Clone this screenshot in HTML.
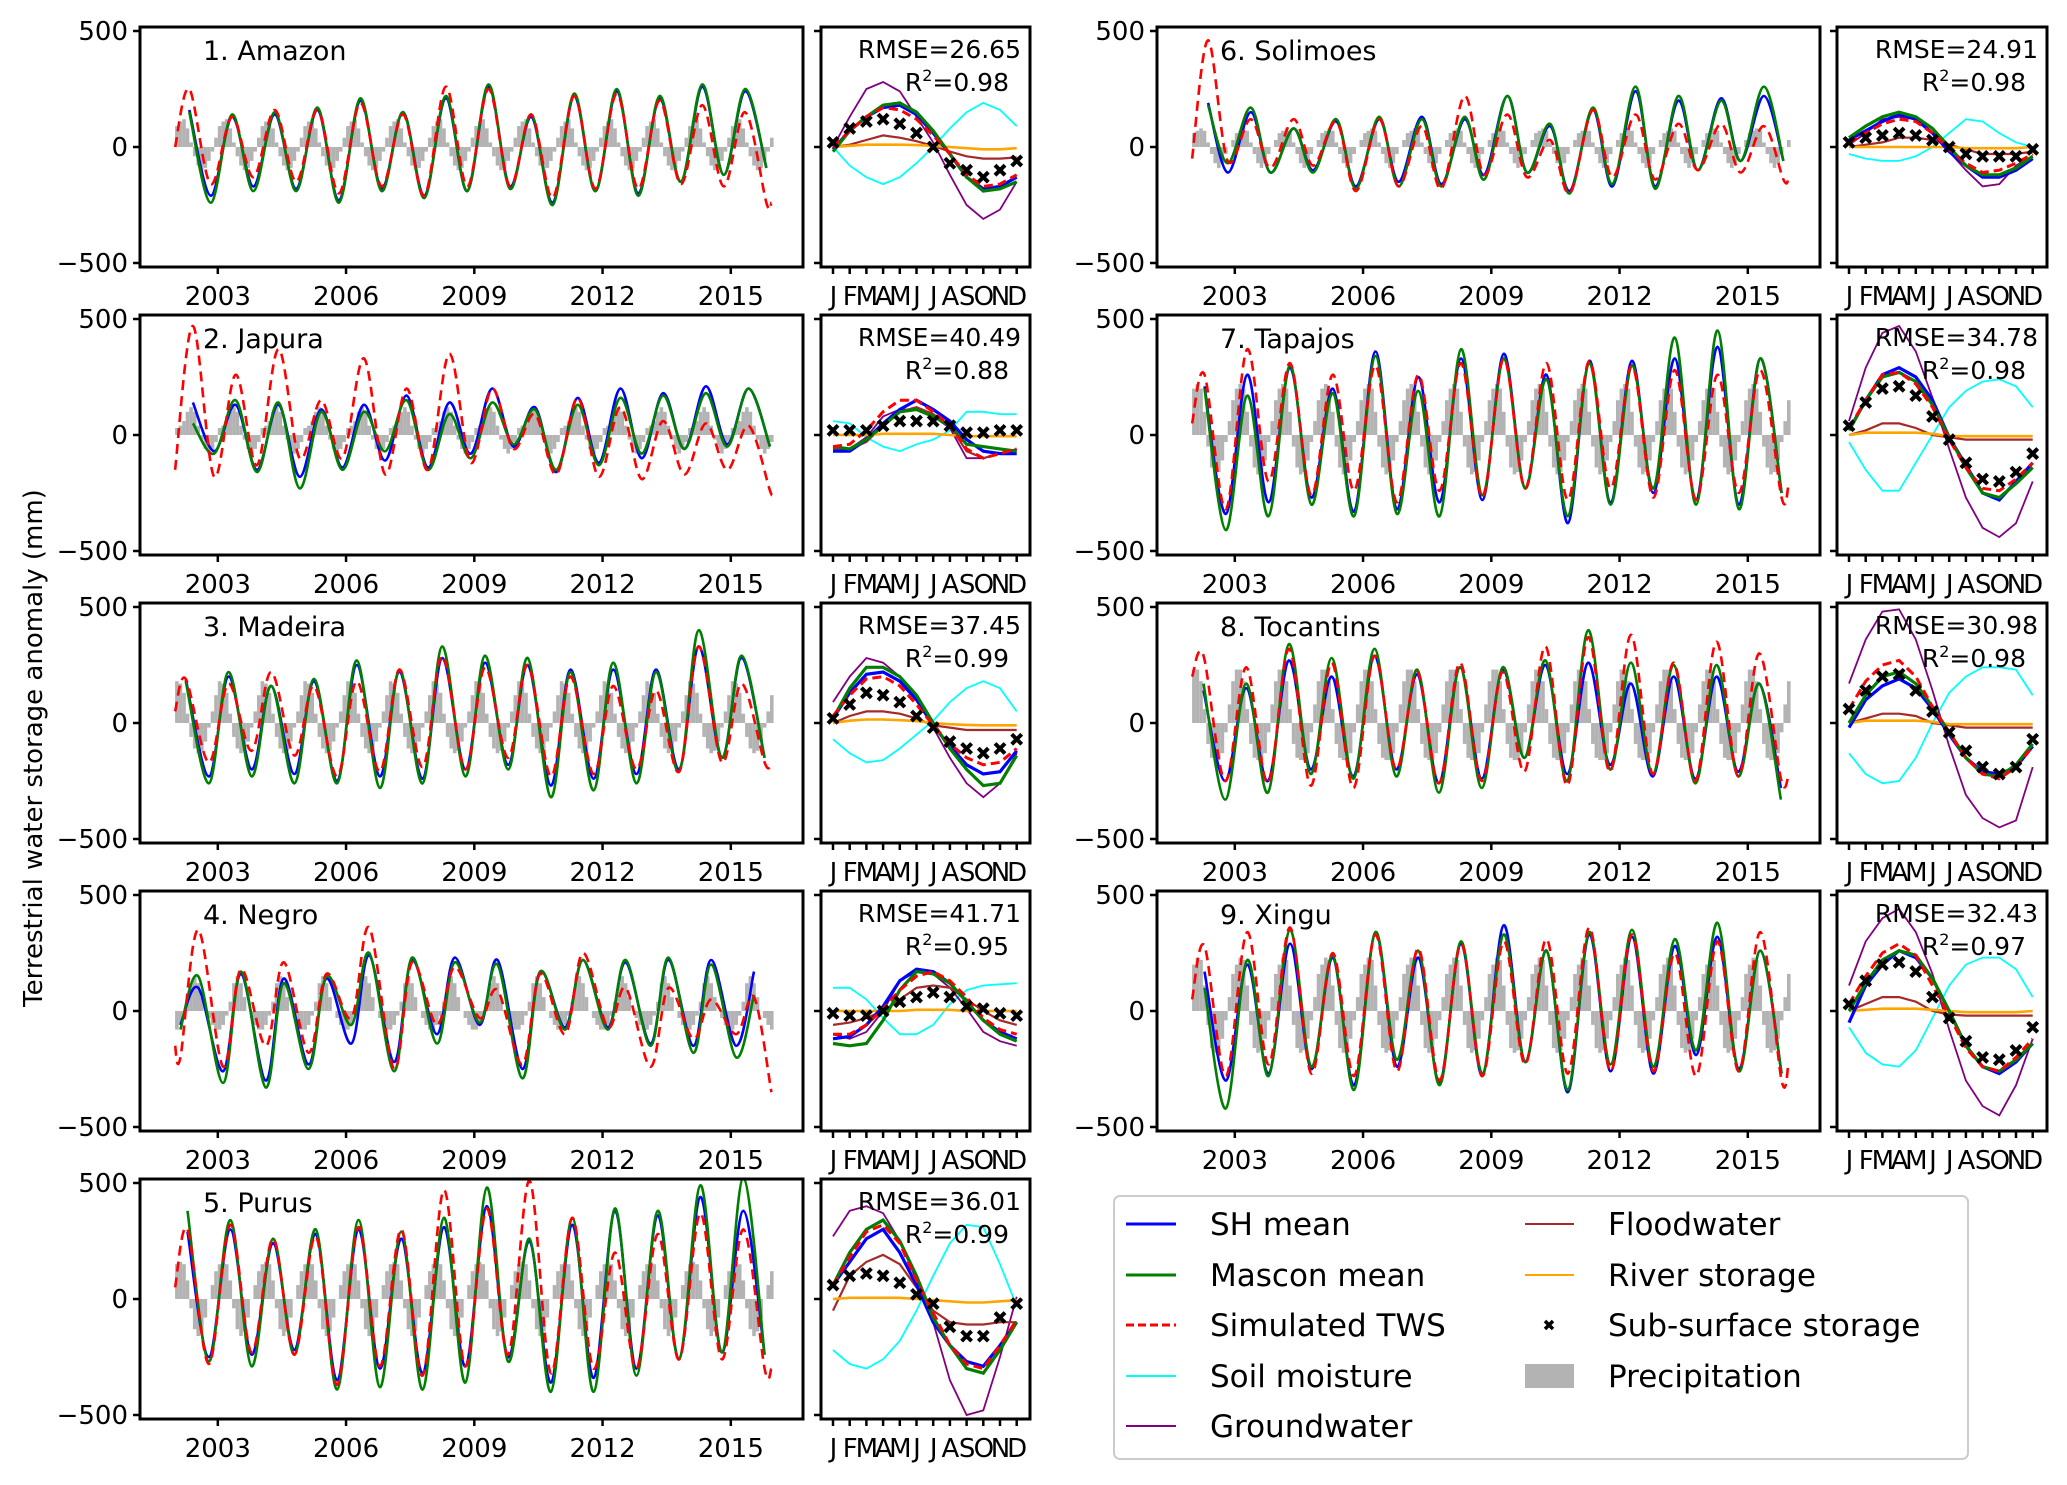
<!DOCTYPE html>
<html><head><meta charset="utf-8"><style>
html,body{margin:0;padding:0;background:#fff;}
svg{display:block;font-family:"DejaVu Sans","Liberation Sans",sans-serif;}
</style></head><body>
<svg id="fig" width="2067" height="1485" viewBox="0 0 2067 1485" xmlns="http://www.w3.org/2000/svg">
<rect width="2067" height="1485" fill="#fff"/>
<text transform="translate(42,748) rotate(-90)" text-anchor="middle" font-size="26">Terrestrial water storage anomaly (mm)</text>
<g id="panels"></g>
<g>
<rect x="1114" y="1196" width="854" height="263" rx="6" fill="#fff" stroke="#ccc" stroke-width="2"/>
<g font-size="31">
<line x1="1126" y1="1224" x2="1176" y2="1224" stroke="#0000ff" stroke-width="3"/><text x="1210" y="1235">SH mean</text>
<line x1="1126" y1="1275" x2="1176" y2="1275" stroke="#008000" stroke-width="3"/><text x="1210" y="1286">Mascon mean</text>
<line x1="1126" y1="1325" x2="1176" y2="1325" stroke="#ff0000" stroke-width="3" stroke-dasharray="8,4"/><text x="1210" y="1336">Simulated TWS</text>
<line x1="1126" y1="1376" x2="1176" y2="1376" stroke="#00ffff" stroke-width="2"/><text x="1210" y="1387">Soil moisture</text>
<line x1="1126" y1="1426" x2="1176" y2="1426" stroke="#800080" stroke-width="2"/><text x="1210" y="1437">Groundwater</text>
<line x1="1525" y1="1224" x2="1574" y2="1224" stroke="#a52a2a" stroke-width="2"/><text x="1608" y="1235">Floodwater</text>
<line x1="1525" y1="1275" x2="1574" y2="1275" stroke="#ffa500" stroke-width="2"/><text x="1608" y="1286">River storage</text>
<path d="M1545,1321L1553,1329M1545,1329L1553,1321" stroke="#000" stroke-width="3.5"/><text x="1608" y="1336">Sub-surface storage</text>
<rect x="1525" y="1364" width="49" height="24" fill="#b3b3b3"/><text x="1608" y="1387">Precipitation</text>
</g></g>
</svg>
<script>
const basinNames=["1. Amazon","2. Japura","3. Madeira","4. Negro","5. Purus","6. Solimoes","7. Tapajos","8. Tocantins","9. Xingu"];
const rmseLabels=["26.65","40.49","37.45","41.71","36.01","24.91","34.78","30.98","32.43"];
const r2Labels=["0.98","0.88","0.99","0.95","0.99","0.98","0.98","0.98","0.97"];
const yearTicks=[2003,2006,2009,2012,2015];
const yTicks=[500,0,-500];
const monthLabels=["J","F","M","A","M","J","J","A","S","O","N","D"];
const peakMonth=[4,5,3,6.5,3.5,4.5,3.5,3.2,3.5];
const troughMonth=[10,11,9.5,1.5,9.5,10,9.5,9.3,9.5];
const simStart=[0,-150,50,-150,50,-50,50,200,50];
const simEnd=[-240,-240,-170,-350,-300,-140,-220,-230,-230];
const simPeaks=[
[250,130,160,160,190,140,260,250,140,220,230,200,180,150],
[470,260,370,150,330,200,350,200,90,160,120,60,50,40],
[190,170,220,160,180,230,290,240,250,200,160,140,330,170],
[350,180,210,160,360,210,190,90,160,250,100,100,50,60],
[300,320,260,270,310,300,470,390,510,350,200,280,370,300],
[460,120,120,110,120,90,220,140,30,160,140,100,100,90],
[260,370,310,260,300,260,310,330,310,320,300,280,260,280],
[290,240,320,260,290,220,260,220,330,370,380,260,350,300],
[280,340,360,250,330,270,290,300,310,360,330,250,300,340]];
const simTroughs=[
[-160,-130,-150,-200,-170,-210,-170,-170,-220,-180,-180,-160,-170,-240],
[-180,-130,-100,-100,-170,-150,-120,-60,-170,-180,-190,-170,-150,-240],
[-170,-120,-140,-230,-210,-190,-200,-150,-230,-220,-200,-210,-170,-170],
[-200,-240,-150,-180,-30,-250,-60,-30,-230,-100,-70,-240,-120,-100],
[-280,-230,-240,-370,-290,-330,-290,-240,-320,-300,-300,-260,-260,-300],
[-60,-90,-80,-190,-170,-180,-120,-130,-200,-130,-140,-100,-110,-140],
[-320,-200,-260,-240,-290,-240,-270,-230,-280,-230,-270,-280,-250,-270],
[-250,-260,-270,-280,-200,-260,-250,-210,-270,-210,-220,-250,-230,-240],
[-280,-230,-270,-280,-260,-300,-280,-230,-270,-260,-260,-280,-260,-300]];
const masconPeaks=[
[150,140,150,170,210,150,220,270,140,230,250,220,270,250],
[50,150,140,100,100,150,90,140,110,130,160,170,180,200],
[180,220,160,190,270,230,330,290,280,220,260,220,400,290],
[150,170,120,150,250,230,210,200,170,220,220,230,200,70],
[380,340,260,300,340,290,350,480,260,350,390,380,490,520],
[180,170,80,120,130,120,130,220,100,170,260,220,200,260],
[200,170,300,180,340,190,370,330,240,310,300,420,450,330],
[170,170,340,280,320,230,240,240,270,400,260,250,250,170],
[100,220,350,240,340,260,300,330,260,340,350,310,380,260]];
const masconTroughs=[
[-240,-190,-190,-240,-190,-220,-190,-180,-250,-190,-210,-150,-120,-90],
[-80,-160,-230,-150,-70,-150,-100,-40,-150,-130,-80,-60,-50,-50],
[-260,-230,-260,-260,-280,-260,-230,-200,-320,-290,-260,-210,-150,-150],
[-80,-310,-330,-250,-60,-260,-140,-50,-290,-80,-80,-150,-180,-200],
[-270,-290,-240,-390,-380,-390,-360,-270,-400,-400,-330,-260,-230,-240],
[-70,-110,-110,-180,-170,-170,-140,-110,-200,-160,-180,-100,-60,-60],
[-410,-350,-300,-350,-340,-350,-260,-230,-350,-300,-230,-300,-320,-250],
[-330,-300,-220,-240,-230,-300,-280,-150,-250,-200,-220,-260,-230,-330],
[-420,-280,-240,-340,-210,-320,-270,-220,-340,-230,-240,-170,-260,-270]];
const shPeaks=[
[160,130,140,160,200,150,210,260,130,220,240,210,260,240],
[140,130,130,110,130,170,140,200,120,160,200,180,210,200],
[190,200,160,180,250,220,280,260,250,230,230,230,330,280],
[100,160,140,140,240,220,230,220,170,220,210,220,220,170],
[290,300,240,280,300,260,310,400,250,320,380,360,440,380],
[190,150,80,110,120,130,120,220,90,160,240,200,210,220],
[210,260,290,200,360,250,330,350,260,320,320,330,380,330],
[140,150,270,200,290,210,240,230,250,260,170,200,200,170],
[170,200,290,230,340,230,290,370,260,330,320,280,320,260]];
const shTroughs=[
[-210,-170,-180,-230,-180,-210,-190,-170,-240,-190,-200,-150,-120,-90],
[-70,-150,-180,-140,-110,-140,-80,-50,-160,-120,-100,-60,-40,-50],
[-230,-200,-220,-250,-230,-240,-200,-180,-270,-240,-220,-200,-150,-150],
[-60,-260,-300,-230,-140,-220,-100,-60,-250,-70,-70,-140,-150,-150],
[-250,-240,-220,-350,-300,-320,-290,-250,-360,-340,-300,-260,-230,-240],
[-110,-110,-100,-170,-150,-160,-120,-110,-190,-170,-170,-100,-60,-60],
[-340,-290,-270,-330,-320,-290,-280,-230,-380,-290,-250,-280,-300,-250],
[-250,-250,-200,-230,-200,-260,-240,-150,-220,-180,-230,-240,-210,-280],
[-300,-270,-250,-320,-240,-310,-280,-220,-350,-260,-270,-190,-250,-270]];
const precipClim=[
[90,110,120,80,20,-40,-80,-100,-90,-60,-20,40],
[30,40,60,100,120,100,40,-20,-60,-80,-60,-30],
[180,170,130,40,-60,-110,-130,-120,-80,-20,50,120],
[-80,-60,-20,40,120,150,120,60,0,-30,-60,-80],
[150,160,150,80,-40,-130,-160,-140,-80,0,60,120],
[60,70,80,70,20,-30,-70,-90,-70,-30,0,30],
[200,220,200,100,-50,-140,-170,-160,-110,-30,60,150],
[230,230,180,60,-90,-150,-160,-160,-130,-40,80,180],
[200,230,220,110,-60,-160,-180,-170,-120,-40,60,160]];
const climSH=[
[-10,70,130,170,180,140,60,-30,-130,-180,-170,-130],
[-70,-70,-20,50,110,150,110,60,-20,-70,-80,-80],
[20,130,210,220,180,100,-10,-100,-180,-220,-210,-120],
[-120,-110,-60,20,130,180,170,120,40,-40,-90,-120],
[60,160,260,300,200,60,-100,-200,-270,-290,-200,-100],
[30,70,110,140,120,60,-20,-80,-130,-130,-100,-50],
[20,150,260,290,250,150,-10,-130,-250,-280,-200,-120],
[-20,100,160,190,150,60,-50,-150,-210,-220,-190,-100],
[-50,110,200,260,230,140,0,-150,-240,-270,-220,-140]];
const climMascon=[
[-20,70,130,180,190,150,70,-30,-130,-190,-180,-150],
[-50,-60,-20,40,100,110,80,40,-40,-50,-60,-70],
[20,150,240,240,200,120,0,-110,-200,-270,-260,-140],
[-140,-150,-140,-40,90,170,160,120,40,-40,-100,-130],
[60,200,300,340,250,100,-80,-200,-300,-320,-220,-100],
[40,90,130,150,130,80,0,-80,-120,-120,-90,-40],
[20,150,250,270,230,130,-10,-140,-250,-270,-210,-140],
[0,120,200,220,170,70,-40,-150,-220,-230,-180,-90],
[0,120,220,260,240,140,0,-150,-240,-260,-210,-140]];
const climSim=[
[0,70,130,170,160,120,50,-30,-120,-170,-160,-120],
[-50,-40,20,100,150,150,100,40,-60,-100,-80,-60],
[30,120,190,200,160,80,-10,-90,-150,-180,-170,-110],
[-100,-100,-60,10,90,150,170,130,60,-30,-80,-100],
[60,180,290,320,240,80,-60,-200,-280,-300,-200,-90],
[20,60,100,120,110,60,-10,-70,-110,-100,-70,-30],
[30,150,260,270,220,120,-20,-140,-230,-240,-190,-120],
[60,180,250,270,200,70,-40,-150,-220,-240,-190,-100],
[30,150,250,290,240,110,-20,-160,-240,-260,-200,-120]];
const climSoil=[
[0,-80,-130,-160,-130,-70,0,80,150,190,160,90],
[60,50,-10,-50,-70,-40,-20,20,100,100,90,90],
[-70,-130,-170,-160,-110,-50,10,90,150,180,150,50],
[100,100,50,-30,-100,-100,-60,30,90,110,115,120],
[-220,-280,-300,-260,-180,-50,100,240,320,310,150,-30],
[-30,-50,-60,-60,-40,0,60,120,110,60,20,0],
[-30,-150,-240,-240,-120,0,120,190,230,240,210,120],
[-130,-220,-260,-250,-150,0,130,200,240,240,230,120],
[-70,-180,-230,-240,-170,-30,110,200,230,230,180,60]];
const climGW=[
[0,130,250,280,240,130,20,-120,-250,-310,-270,-150],
[-60,-60,-10,80,110,110,80,30,-100,-100,-80,-60],
[90,200,280,260,200,100,-20,-150,-260,-320,-260,-130],
[-100,-120,-90,0,130,170,160,100,10,-90,-130,-150],
[270,380,400,370,250,80,-100,-350,-500,-480,-250,10],
[10,60,120,130,120,60,-20,-100,-170,-160,-80,-40],
[60,290,440,470,360,160,-60,-270,-400,-440,-380,-200],
[170,360,480,490,360,140,-100,-310,-410,-450,-420,-190],
[110,300,400,440,340,160,-80,-300,-410,-450,-320,-120]];
const climFlood=[
[0,10,30,50,40,25,5,-20,-40,-50,-50,-45],
[-60,-60,-30,40,100,120,90,40,-70,-100,-80,-70],
[0,30,50,50,40,20,-10,-20,-30,-30,-30,-30],
[-60,-50,-30,0,50,100,110,100,50,0,-40,-60],
[-50,100,160,190,150,50,-50,-100,-110,-110,-100,-100],
[0,10,20,40,40,30,10,-10,-30,-30,-30,-20],
[0,20,50,50,30,0,-10,-20,-20,-20,-20,-20],
[0,20,40,40,30,0,-10,-20,-20,-20,-20,-20],
[0,30,60,60,40,0,-15,-20,-20,-20,-20,-20]];
const climRiver=[
[0,5,10,10,10,8,5,0,-5,-10,-10,-5],
[0,0,0,5,5,5,5,0,-5,-5,-5,-5],
[0,10,15,15,12,8,0,-5,-8,-10,-10,-10],
[0,0,0,0,0,5,5,5,0,0,0,0],
[0,5,5,5,5,0,-5,-10,-15,-15,-10,-5],
[0,0,0,0,0,0,0,-5,-5,-5,-5,0],
[0,10,10,10,10,5,-5,-5,-5,-5,-5,-5],
[0,10,10,10,10,5,-5,-5,-5,-5,-5,-5],
[0,5,10,10,10,5,0,-5,-5,-5,-5,0]];
const climSub=[
[20,80,110,120,100,60,0,-70,-100,-130,-100,-60],
[20,20,20,40,60,60,60,40,10,10,20,20],
[20,80,130,120,90,30,-20,-80,-110,-130,-110,-70],
[-10,-20,-20,0,40,60,80,60,20,10,-10,-20],
[60,100,110,100,70,20,-20,-120,-160,-160,-80,-20],
[20,40,50,60,50,30,0,-30,-40,-40,-40,-10],
[40,140,200,210,170,80,-20,-120,-190,-200,-160,-80],
[60,140,200,210,140,50,-40,-120,-190,-220,-190,-70],
[30,130,200,210,170,60,-30,-130,-200,-210,-170,-70]];

const NS="http://www.w3.org/2000/svg";
const root=document.getElementById("panels");
function mk(tag,attrs,parent){const e=document.createElementNS(NS,tag);for(const k in attrs)e.setAttribute(k,attrs[k]);(parent||root).appendChild(e);return e;}
function smoothPath(pts){
  if(pts.length<2)return "";
  let d="M"+pts[0][0].toFixed(1)+","+pts[0][1].toFixed(1);
  for(let i=0;i<pts.length-1;i++){
    const p0=pts[Math.max(0,i-1)],p1=pts[i],p2=pts[i+1],p3=pts[Math.min(pts.length-1,i+2)];
    const c1x=p1[0]+(p2[0]-p0[0])/6,c1y=p1[1]+(p2[1]-p0[1])/6;
    const c2x=p2[0]-(p3[0]-p1[0])/6,c2y=p2[1]-(p3[1]-p1[1])/6;
    d+=" C"+c1x.toFixed(1)+","+c1y.toFixed(1)+" "+c2x.toFixed(1)+","+c2y.toFixed(1)+" "+p2[0].toFixed(1)+","+p2[1].toFixed(1);
  }
  return d;
}
function polyPath(pts){return pts.map((p,i)=>(i?"L":"M")+p[0].toFixed(1)+","+p[1].toFixed(1)).join(" ");}

for(let b=0;b<9;b++){
  const col=b<5?0:1,row=b<5?b:b-5;
  const mx0=col?1157:140,mx1=col?1820:803;
  const sx0=col?1837:821,sx1=col?2047:1030;
  const top=27+288*row,bot=top+240,zero=top+120;
  const yS=v=>zero-v*0.232;
  const xT=t=>mx0+(t-2001.18)*42.75;
  const xM=m=>sx0+12+m*16.7;
  const g=mk("g",{});
  
  
  const cid="clip"+b;
  const cp=mk("clipPath",{id:cid},g);mk("rect",{x:mx0,y:top,width:mx1-mx0,height:240},cp);
  const cid2="clipm"+b;
  const cp2=mk("clipPath",{id:cid2},g);mk("rect",{x:sx0,y:top,width:sx1-sx0,height:240},cp2);
  const plot=mk("g",{"clip-path":"url(#"+cid+")"},g);
  for(let yr=0;yr<14;yr++)for(let m=0;m<12;m++){
    const v=precipClim[b][m];
    const x=xT(2002+yr+m/12);
    const r=mk("rect",{x:x.toFixed(1),y:Math.min(yS(v),zero).toFixed(1),width:"3.6",height:Math.abs(yS(v)-zero).toFixed(1),fill:"#b3b3b3"},plot);
    
    
  }
  function seriesPts(P,T,extraStart,extraEnd){
    const pts=[];
    if(extraStart!==null)pts.push([2002.0,extraStart]);
    for(let i=0;i<14;i++){pts.push([2002+i+peakMonth[b]/12,P[i]]);pts.push([2002+i+troughMonth[b]/12,T[i]]);}
    if(extraEnd!==null)pts.push([2015.95,extraEnd]);
    pts.sort((a,c)=>a[0]-c[0]);
    return pts.map(p=>[xT(p[0]),yS(p[1])]);
  }
  const pSh=mk("path",{d:smoothPath(seriesPts(shPeaks[b],shTroughs[b],null,null)),fill:"none",stroke:"#0000ff","stroke-width":"2.6"},plot);
  
  
  const pMa=mk("path",{d:smoothPath(seriesPts(masconPeaks[b],masconTroughs[b],null,null)),fill:"none",stroke:"#008000","stroke-width":"2.6"},plot);
  
  
  const pSi=mk("path",{d:smoothPath(seriesPts(simPeaks[b],simTroughs[b],simStart[b],simEnd[b])),fill:"none",stroke:"#ff0000","stroke-width":"2.6","stroke-dasharray":"10,6"},plot);
  
  
  const fr=mk("rect",{x:mx0,y:top,width:mx1-mx0,height:240,fill:"none",stroke:"#000","stroke-width":"3"},g);
  
  
  yTicks.forEach(v=>{
    mk("line",{x1:mx0-7,x2:mx0,y1:yS(v),y2:yS(v),stroke:"#000","stroke-width":"2.5"},g);
    const t=mk("text",{x:mx0-12,y:yS(v)+9,"text-anchor":"end","font-size":"26"},g);
    t.textContent=v<0?"\u2212"+(-v):String(v);
    
    
    mk("line",{x1:sx0-7,x2:sx0,y1:yS(v),y2:yS(v),stroke:"#000","stroke-width":"2.5"},g);
  });
  yearTicks.forEach(yv=>{
    const x=xT(yv);
    mk("line",{x1:x,x2:x,y1:bot,y2:bot+7,stroke:"#000","stroke-width":"2.5"},g);
    const t=mk("text",{x:x,y:bot+38,"text-anchor":"middle","font-size":"26"},g);
    t.textContent=String(yv);
    
    
  });
  const ti=mk("text",{x:mx0+63,y:top+33,"font-size":"27"},g);
  ti.textContent=basinNames[b];
  
  
  const mp=mk("g",{"clip-path":"url(#"+cid2+")"},g);
  const mpts=arr=>arr.map((v,m)=>[xM(m),yS(v)]);
  const lines=[[climSoil,"#00ffff",1.8,"soil-moisture-line",null],[climGW,"#800080",1.8,"groundwater-line",null],[climFlood,"#a52a2a",2.2,"floodwater-line",null],[climRiver,"#ffa500",2.6,"river-storage-line",null],[climSH,"#0000ff",3.2,"sh-mean-clim-line",null],[climMascon,"#008000",3.2,"mascon-mean-clim-line",null],[climSim,"#ff0000",3,"simulated-tws-clim-line","9,5"]];
  lines.forEach(L=>{
    const a={d:polyPath(mpts(L[0][b])),fill:"none",stroke:L[1],"stroke-width":L[2]};
    if(L[4])a["stroke-dasharray"]=L[4];
    const p=mk("path",a,mp);
    
    
  });
  climSub[b].forEach((v,m)=>{
    const x=xM(m),y=yS(v);
    const p=mk("path",{d:`M${x-5},${y-5}L${x+5},${y+5}M${x-5},${y+5}L${x+5},${y-5}`,stroke:"#000","stroke-width":"4"},mp);
    
    
  });
  const fr2=mk("rect",{x:sx0,y:top,width:sx1-sx0,height:240,fill:"none",stroke:"#000","stroke-width":"3"},g);
  
  
  monthLabels.forEach((lab,m)=>{
    const x=xM(m);
    mk("line",{x1:x,x2:x,y1:bot,y2:bot+7,stroke:"#000","stroke-width":"2.5"},g);
    const t=mk("text",{x:x,y:bot+38,"text-anchor":"middle","font-size":"26","letter-spacing":"-1"},g);
    t.textContent=lab;
    
    
  });
  const t1=mk("text",{x:sx1-9,y:top+31,"text-anchor":"end","font-size":"25"},g);
  t1.textContent="RMSE="+rmseLabels[b];
  
  
  const t2=mk("text",{x:sx1-21,y:top+64,"text-anchor":"end","font-size":"25"},g);
  t2.innerHTML='R<tspan font-size="16" dy="-10">2</tspan><tspan dy="10">='+r2Labels[b]+'</tspan>';
  
  
}
</script>
</body></html>
